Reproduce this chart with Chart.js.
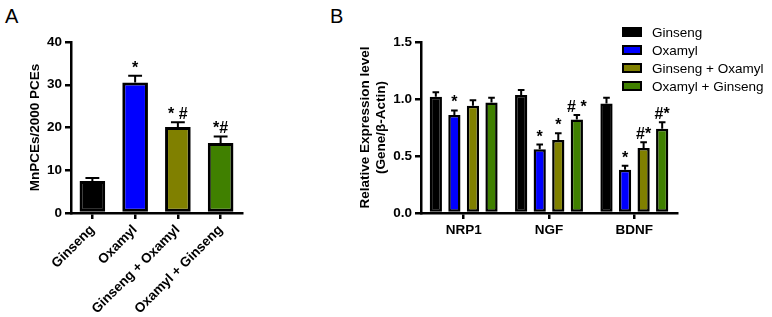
<!DOCTYPE html>
<html>
<head>
<meta charset="utf-8">
<script src="https://cdn.jsdelivr.net/npm/chart.js@4.4.1/dist/chart.umd.min.js"></script>
<style>
  body { margin: 0; background: #fff; font-family: 'Liberation Sans', Arial, sans-serif; }
  #wrap { position: relative; width: 772px; height: 317px; overflow: hidden; }
  .tag { position: absolute; font-size: 20px; color: #000; }
  .box { position: absolute; top: 0; height: 317px; }
  #legendB { position: absolute; left: 622px; top: 23px; font-size: 13.5px; color: #000; }
  #legendB .row { height: 18px; display: flex; align-items: center; }
  #legendB .sw { width: 16px; height: 6px; border: 2px solid #000; margin-right: 10px; }
</style>
</head>
<body>
<div id="wrap">
  <div class="tag" style="left:5px;top:5px">A</div>
  <div class="tag" style="left:330px;top:5px">B</div>
  <div class="box" style="left:0;width:300px"><canvas id="chartA"></canvas></div>
  <div class="box" style="left:340px;width:432px"><canvas id="chartB"></canvas></div>
  <div id="legendB"></div>
</div>
<script>
// panel A
const groupsA = ['Ginseng', 'Oxamyl', 'Ginseng + Oxamyl', 'Oxamyl + Ginseng'];
const mnpceMean = [7.5, 30.5, 20.1, 16.4];
const mnpceSem = [0.7, 1.6, 1.1, 1.5];
const mnpceSig = ['', '*', '* #', '*#'];
const yTicksA = [0, 10, 20, 30, 40];

// panel B
const genes = ['NRP1', 'NGF', 'BDNF'];
const seriesNames = ['Ginseng', 'Oxamyl', 'Ginseng + Oxamyl', 'Oxamyl + Ginseng'];
const seriesColors = ['#000000', '#0000ff', '#808000', '#408000'];
const exprGinseng = [1.02, 1.035, 0.96];
const exprOxamyl = [0.86, 0.56, 0.38];
const exprGinOx = [0.94, 0.64, 0.57];
const exprOxGin = [0.97, 0.82, 0.74];
const semGinseng = [0.04, 0.045, 0.05];
const semOxamyl = [0.04, 0.04, 0.035];
const semGinOx = [0.05, 0.06, 0.05];
const semOxGin = [0.04, 0.04, 0.055];
const sigGinseng = ['', '', ''];
const sigOxamyl = ['*', '*', '*'];
const sigGinOx = ['', '*', '#*'];
const sigOxGin = ['', '# *', '#*'];
const yTicksB = [0, 0.5, 1.0, 1.5];

const FONT = 'Liberation Sans';

// draws the upper error bar and the significance marks above each bar
const errorBars = {
  id: 'errorBars',
  afterDatasetsDraw(chart) {
    const ctx = chart.ctx;
    const y = chart.scales.y;
    chart.data.datasets.forEach((ds, i) => {
      const meta = chart.getDatasetMeta(i);
      meta.data.forEach((bar, j) => {
        const top = y.getPixelForValue(ds.data[j] + ds.errors[j]);
        const cap = bar.width * 0.27;
        ctx.save();
        ctx.strokeStyle = '#000';
        ctx.lineWidth = 2;
        ctx.beginPath();
        ctx.moveTo(bar.x, bar.y);
        ctx.lineTo(bar.x, top);
        ctx.moveTo(bar.x - cap, top);
        ctx.lineTo(bar.x + cap, top);
        ctx.stroke();
        if (ds.marks[j]) {
          ctx.font = 'bold 16px "' + FONT + '"';
          ctx.textAlign = 'center';
          ctx.textBaseline = 'alphabetic';
          ctx.fillStyle = '#000';
          ctx.fillText(ds.marks[j], bar.x, top - 3);
        }
        ctx.restore();
      });
    });
  }
};

const tickFont = { family: FONT, size: 13.5, weight: 'bold' };

function axes(yTicks, yTitle, titlePad, yWidth, fmt) {
  return {
    x: {
      grid: { display: true, drawOnChartArea: false, offset: false, tickLength: 6, color: '#000', lineWidth: 2.5 },
      border: { display: true, color: '#000', width: 2.5 },
      ticks: { color: '#000', font: tickFont, padding: 3 },
      afterFit: s => { s.height = 104; }
    },
    y: {
      min: yTicks[0],
      max: yTicks[yTicks.length - 1],
      afterBuildTicks: s => { s.ticks = yTicks.map(v => ({ value: v })); },
      grid: { display: true, drawOnChartArea: false, tickLength: 6, color: '#000', lineWidth: 2.5 },
      border: { display: true, color: '#000', width: 2.5 },
      ticks: { color: '#000', font: tickFont, padding: 3, callback: fmt },
      title: { display: true, text: yTitle, color: '#000', font: tickFont, padding: { top: titlePad, bottom: 0 } },
      afterFit: s => { s.width = yWidth; }
    }
  };
}

const scalesA = axes(yTicksA, 'MnPCEs/2000 PCEs', 27, 71, v => v);
scalesA.x.ticks.minRotation = 45;
scalesA.x.ticks.maxRotation = 45;

new Chart(document.getElementById('chartA'), {
  type: 'bar',
  data: {
    labels: groupsA,
    datasets: [{
      data: mnpceMean,
      errors: mnpceSem,
      marks: mnpceSig,
      backgroundColor: seriesColors,
      borderColor: '#000',
      borderWidth: 3,
      borderSkipped: false,
      barPercentage: 0.6,
      categoryPercentage: 1
    }]
  },
  options: {
    responsive: true,
    maintainAspectRatio: false,
    animation: false,
    devicePixelRatio: 1,
    layout: { padding: { left: 0, right: 58, top: 42, bottom: 0 } },
    plugins: { legend: { display: false }, tooltip: { enabled: false } },
    scales: scalesA
  },
  plugins: [errorBars]
});

const valuesB = [exprGinseng, exprOxamyl, exprGinOx, exprOxGin];
const semB = [semGinseng, semOxamyl, semGinOx, semOxGin];
const sigB = [sigGinseng, sigOxamyl, sigGinOx, sigOxGin];

new Chart(document.getElementById('chartB'), {
  type: 'bar',
  data: {
    labels: genes,
    datasets: seriesNames.map((name, i) => ({
      label: name,
      data: valuesB[i],
      errors: semB[i],
      marks: sigB[i],
      backgroundColor: seriesColors[i],
      borderColor: '#000',
      borderWidth: 2.5,
      borderSkipped: false,
      barPercentage: 0.66,
      categoryPercentage: 0.87
    }))
  },
  options: {
    responsive: true,
    maintainAspectRatio: false,
    animation: false,
    devicePixelRatio: 1,
    layout: { padding: { left: 0, right: 95, top: 42, bottom: 0 } },
    plugins: { legend: { display: false }, tooltip: { enabled: false } },
    scales: axes(yTicksB, ['Relative Expression level', '(Gene/\u03b2-Actin)'], 17, 81, v => Number(v).toFixed(1))
  },
  plugins: [errorBars]
});

// legend for panel B
const legend = document.getElementById('legendB');
seriesNames.forEach((name, i) => {
  const row = document.createElement('div');
  row.className = 'row';
  const sw = document.createElement('span');
  sw.className = 'sw';
  sw.style.background = seriesColors[i];
  const txt = document.createElement('span');
  txt.textContent = name;
  row.appendChild(sw);
  row.appendChild(txt);
  legend.appendChild(row);
});
</script>
</body>
</html>
